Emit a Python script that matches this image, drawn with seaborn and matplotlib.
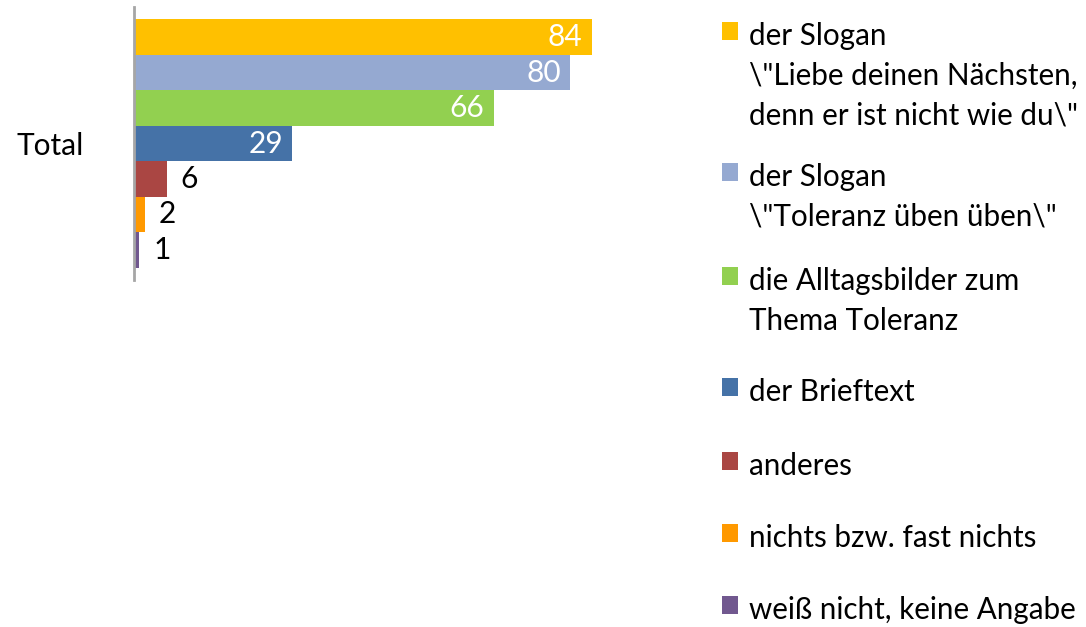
import matplotlib
matplotlib.use("Agg")
import matplotlib.pyplot as plt
import seaborn as sns
import pandas as pd

categories = [
    'der Slogan\n\\"Liebe deinen Nächsten,\ndenn er ist nicht wie du\\"',
    'der Slogan\n\\"Toleranz üben üben\\"',
    'die Alltagsbilder zum\nThema Toleranz',
    'der Brieftext',
    'anderes',
    'nichts bzw. fast nichts',
    'weiß nicht, keine Angabe',
]
values = [84, 80, 66, 29, 6, 2, 1]
groups = ["Total"] * len(values)
colors = ["#FFC000", "#95A9D1", "#92D050", "#4572A7", "#AA4643", "#FF9900", "#71588F"]

sns.set_theme(style="white")
plt.rcParams["font.family"] = ["Lato", "DejaVu Sans"]
plt.rcParams["text.color"] = "black"

df = pd.DataFrame({"group": groups, "category": categories, "value": values})

fig = plt.figure(figsize=(10.86, 6.27), dpi=100)
ax = fig.add_axes([0.1234, 0.5534, 0.625 - 0.1234, 0.9888 - 0.5534])

sns.barplot(data=df, y="group", x="value", hue="category", hue_order=categories,
            palette=colors, orient="h", width=0.91, saturation=1, ax=ax,
            linewidth=0, legend=True)

ax.set_xlim(0, 100)
ax.set_ylim(0.5, -0.5)
ax.set_xlabel("")
ax.set_ylabel("")
ax.set_xticks([])
for s in ["top", "right", "bottom"]:
    ax.spines[s].set_visible(False)
ax.spines["left"].set_color("#A6A6A6")
ax.spines["left"].set_linewidth(2)
ax.tick_params(axis="y", length=0, pad=36, labelsize=21.5, colors="black")

for c, v in zip(ax.containers, values):
    if v >= 20:
        txts = ax.bar_label(c, labels=[str(v)], padding=-6.5, color="white", fontsize=21.5)
        for t in txts:
            t.set_ha("right")
    else:
        ax.bar_label(c, labels=[str(v)], padding=10, color="black", fontsize=21.5)

sns.move_legend(ax, loc="upper left", bbox_to_anchor=(0.663, 0.957),
                bbox_transform=fig.transFigure, frameon=False, title=None,
                fontsize=21.3, handlelength=0.55, handleheight=0.55,
                handletextpad=0.35, labelspacing=1.48, borderpad=0,
                borderaxespad=0, labelcolor="black")
leg = ax.get_legend()
for t in leg.get_texts():
    t.set_linespacing(1.51)
item_pads = [-3.6, -3.6, -1.8, 1.5, 0, 0, 0]
for col in leg._legend_handle_box.get_children():
    for item, p in zip(col.get_children(), item_pads):
        item.align = "top"
        item.pad = p

fig.savefig("out.png", dpi=100)
